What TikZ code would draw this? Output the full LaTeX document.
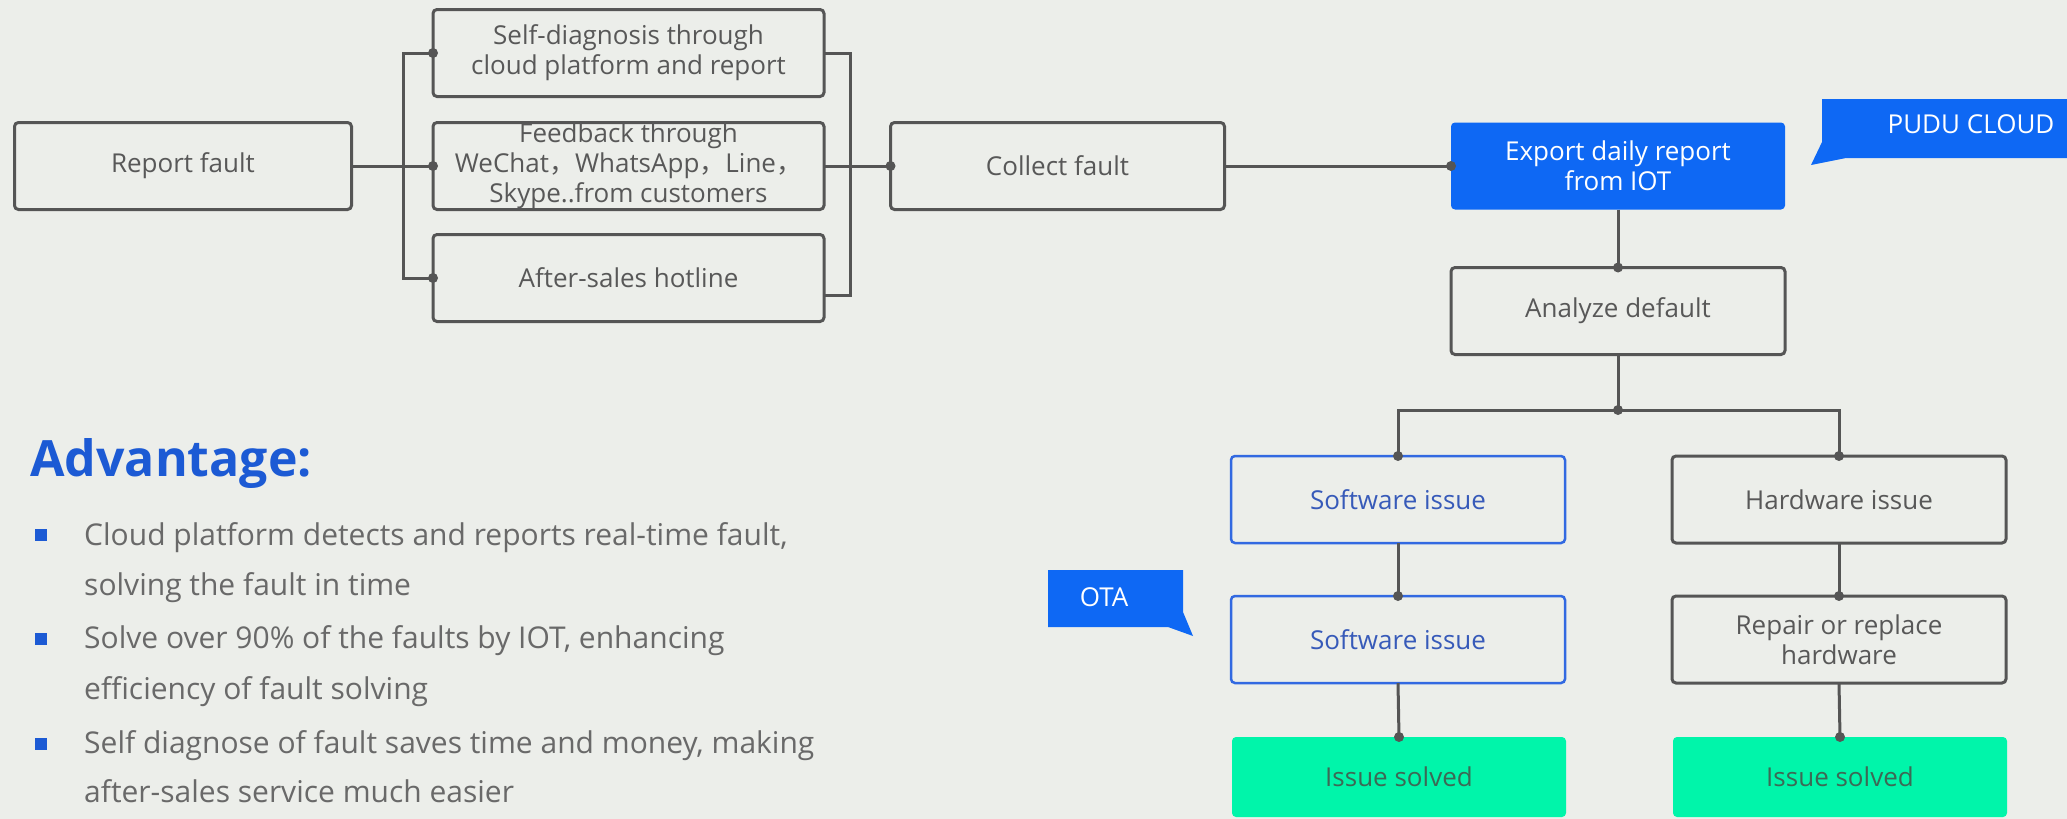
\documentclass[tikz,border=0pt]{standalone}
\usepackage{fontspec}
\setmainfont{Open Sans}
\newfontfamily\cjk{Noto Sans CJK SC}
\usetikzlibrary{calc}
\definecolor{bg}{RGB}{236,238,234}
\definecolor{lc}{RGB}{85,85,85}
\definecolor{tc}{RGB}{88,88,88}
\definecolor{pblue}{RGB}{14,104,244}
\definecolor{sblue}{RGB}{50,105,225}
\definecolor{stext}{RGB}{55,90,185}
\definecolor{pgreen}{RGB}{0,245,170}
\definecolor{gtext}{RGB}{60,105,85}
\definecolor{advblue}{RGB}{28,90,212}
\definecolor{bultext}{RGB}{105,105,105}
\begin{document}
\begin{tikzpicture}[x=1pt,y=-1pt,
  flowbox/.style={draw=lc,line width=3pt,rounded corners=4pt,fill=bg,minimum width=334pt,minimum height=87pt,inner sep=0pt,outer sep=0pt,align=center,text=tc,font=\fontsize{26}{30}\selectfont},
  widebox/.style={flowbox,minimum width=391pt},
  bluebox/.style={flowbox,draw=none,fill=pblue,text=white},
  swbox/.style={flowbox,draw=sblue,line width=2.5pt,text=stext},
  okbox/.style={flowbox,draw=none,fill=pgreen,text=gtext,minimum height=80pt},
  conn/.style={draw=lc,line width=3pt},
  bultxt/.style={anchor=base west,inner sep=0pt,text=bultext,font=\fontsize{30}{34}\selectfont},
  bulsq/.style={fill=advblue,minimum size=12pt,inner sep=0pt,outer sep=0pt},
  calltxt/.style={text=white,inner sep=0pt,font=\fontsize{26}{30}\selectfont}]
\fill[bg] (0,0) rectangle (2067,819);
\useasboundingbox (0,0) rectangle (2067,819);

% nodes
\node[flowbox,minimum width=337pt] (report) at (183,166) {Report fault};
\node[widebox] (selfdiag) at (628.5,53) {Self-diagnosis through\\cloud platform and report};
\node[widebox] (feedback) at (628.5,166) {Feedback through\\WeChat{\cjk ，}WhatsApp{\cjk ，}Line{\cjk ，}\\Skype..from customers};
\node[widebox] (aftersales) at (628.5,278) {After-sales hotline};
\node[flowbox] (collect) at (1057.5,166) {Collect fault};
\node[bluebox] (export) at (1618,166) {Export daily report\\from IOT};
\node[flowbox] (analyze) at (1618,311) {Analyze default};
\node[swbox] (sw1) at (1398,499.5) {Software issue};
\node[flowbox] (hw) at (1839,499.5) {Hardware issue};
\node[swbox] (sw2) at (1398,639.5) {Software issue};
\node[flowbox] (repair) at (1839,639.5) {Repair or replace\\hardware};
\node[okbox] (ok1) at (1399,777) {Issue solved};
\node[okbox] (ok2) at (1840,777) {Issue solved};

% connectors
\coordinate (lb1) at (403,53);
\coordinate (lb2) at (403,278);
\coordinate (rb1) at (850,53);
\coordinate (rb2) at (850,295);
\coordinate (br) at (1618,410);
\draw[conn] (report.east) -- (feedback.west);
\draw[conn] (selfdiag.west) -- (lb1) -- (lb2) -- (aftersales.west);
\draw[conn] (selfdiag.east) -- (rb1) -- (rb2) -- (rb2 -| aftersales.east);
\draw[conn] (feedback.east) -- (collect.west);
\draw[conn] (collect.east) -- (export.west);
\draw[conn] (export.south) -- (analyze.north);
\draw[conn] (analyze.south) -- (br);
\draw[conn] (sw1.north) -- (sw1.north |- br) -- (hw.north |- br) -- (hw.north);
\draw[conn] (sw1.south) -- (sw2.north);
\draw[conn] (sw2.south) -- (ok1.north);
\draw[conn] (hw.south) -- (repair.north);
\draw[conn] (repair.south) -- (ok2.north);
\foreach \p in {selfdiag.west,feedback.west,aftersales.west,collect.west,export.west,analyze.north,br,sw1.north,hw.north,sw2.north,repair.north,ok1.north,ok2.north}
  \fill[lc] (\p) circle (5pt);

% callouts
\fill[pblue] (1822,99) -- (2067,99) -- (2067,158) -- (1846,158) -- (1811,165) -- (1822,142) -- cycle;
\node[calltxt] (pudu) at (1971,124) {PUDU CLOUD};
\fill[pblue] (1048,570) -- (1183,570) -- (1183,612) -- (1193,636) -- (1168,627) -- (1048,627) -- cycle;
\node[calltxt] (ota) at (1104,597) {OTA};

% advantage text
\node[anchor=base west,inner sep=0pt,text=advblue,font=\bfseries\fontsize{50}{54}\selectfont] (adv) at (30,476) {Advantage:};
\node[bulsq] (sq1) at (41,535) {};
\node[bulsq] (sq2) at (41,639) {};
\node[bulsq] (sq3) at (41,744) {};
\node[bultxt] (b1a) at (84,545) {Cloud platform detects and reports real-time fault,};
\node[bultxt] (b1b) at (84,595) {solving the fault in time};
\node[bultxt] (b2a) at (84,648) {Solve over 90\% of the faults by IOT, enhancing};
\node[bultxt] (b2b) at (84,699) {efficiency of fault solving};
\node[bultxt] (b3a) at (84,753) {Self diagnose of fault saves time and money, making};
\node[bultxt] (b3b) at (84,802) {after-sales service much easier};
\end{tikzpicture}
\end{document}
